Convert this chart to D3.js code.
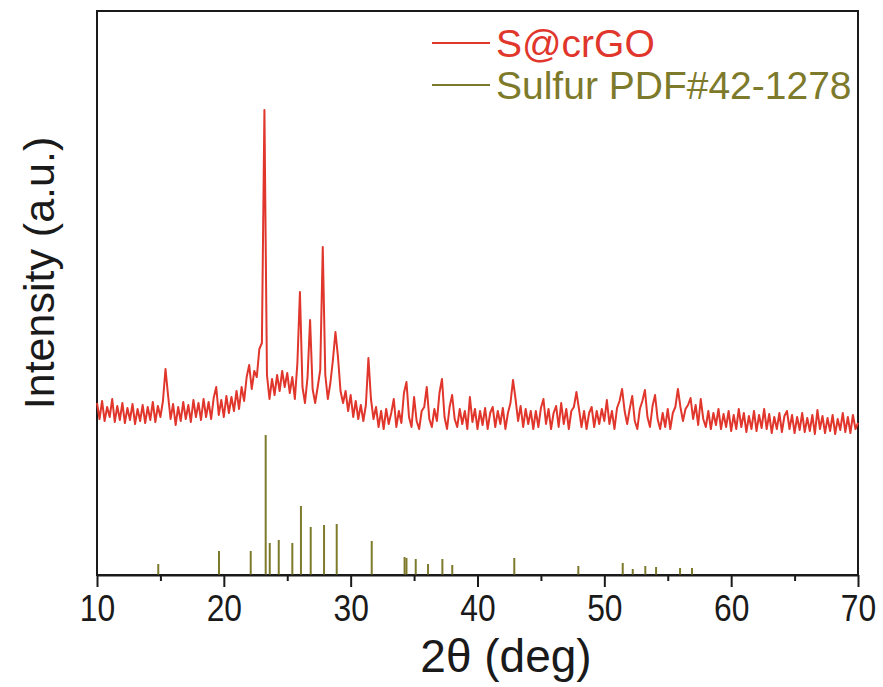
<!DOCTYPE html>
<html>
<head>
<meta charset="utf-8">
<script src="https://cdn.jsdelivr.net/npm/d3@7"></script>
<style>
  body { margin: 0; background: #fff; }
  svg { display: block; font-family: "Liberation Sans", Arial, sans-serif; }
</style>
</head>
<body>
<script>
// XRD scan of S@crGO, step scan from 10 to 70 deg, 0.2 deg step
var scanStart = 10;
var scanStep = 0.2;
var scanIntensity = [
    172, 156, 174, 154, 168,   // 10
    158, 176, 153, 169, 155,   // 11
    172, 152, 167, 155, 171,   // 12
    151, 166, 154, 170, 152,   // 13
    168, 155, 173, 153, 169,   // 14
    158, 174, 206, 180, 156,   // 15
    171, 150, 168, 154, 173,   // 16
    156, 170, 153, 175, 158,   // 17
    172, 155, 176, 158, 173,   // 18
    156, 177, 188, 160, 175,   // 19
    158, 179, 162, 178, 164,   // 20
    184, 166, 188, 174, 198,   // 21
    210, 186, 204, 198, 226,   // 22
    232, 465, 200, 176, 196,   // 23
    180, 200, 184, 204, 188,   // 24
    202, 182, 198, 176, 212,   // 25
    283, 188, 172, 198, 255,   // 26
    186, 172, 188, 205, 328,   // 27
    200, 176, 192, 215, 243,   // 28
    218, 184, 172, 184, 164,   // 29
    180, 158, 174, 156, 170,   // 30
    154, 170, 217, 176, 156,   // 31
    168, 148, 164, 146, 166,   // 32
    151, 162, 176, 148, 164,   // 33
    152, 182, 193, 158, 148,   // 34
    178, 154, 146, 164, 168,   // 35
    188, 156, 148, 166, 154,   // 36
    182, 196, 158, 146, 168,   // 37
    180, 156, 148, 166, 151,   // 38
    164, 146, 178, 153, 166,   // 39
    146, 164, 150, 167, 146,   // 40
    162, 168, 148, 164, 151,   // 41
    167, 146, 162, 172, 195,   // 42
    176, 154, 169, 148, 166,   // 43
    151, 164, 146, 164, 148,   // 44
    167, 176, 151, 166, 146,   // 45
    162, 169, 148, 172, 151,   // 46
    166, 146, 164, 168, 183,   // 47
    166, 148, 164, 146, 162,   // 48
    168, 148, 164, 151, 166,   // 49
    154, 175, 151, 164, 146,   // 50
    167, 174, 186, 164, 151,   // 51
    166, 179, 154, 146, 166,   // 52
    174, 185, 158, 148, 169,   // 53
    180, 156, 146, 162, 148,   // 54
    166, 146, 162, 168, 186,   // 55
    168, 154, 166, 170, 177,   // 56
    156, 170, 150, 176, 156,   // 57
    148, 164, 146, 162, 150,   // 58
    166, 146, 161, 148, 164,   // 59
    144, 160, 146, 166, 148,   // 60
    162, 143, 159, 146, 164,   // 61
    144, 160, 147, 166, 146,   // 62
    161, 142, 158, 146, 162,   // 63
    143, 159, 164, 146, 160,   // 64
    142, 158, 145, 162, 143,   // 65
    157, 144, 160, 141, 165,   // 66
    146, 159, 142, 157, 144,   // 67
    160, 141, 156, 145, 162,   // 68
    143, 158, 142, 160, 146,   // 69
    152                        // 70
];

// reference pattern, sulfur PDF#42-1278
var sulfurAngle = [14.83, 19.62, 22.12, 23.30, 23.62, 24.33, 25.40, 26.08, 26.85, 27.90,
    28.90, 31.66, 34.25, 34.40, 35.13, 36.10, 37.23, 38.01, 42.90, 47.95,
    51.45, 52.24, 53.23, 54.08, 55.97, 56.91];
var sulfurIntensity = [11, 24, 24, 140, 32, 35, 32, 69, 48, 50,
    51, 34, 18, 17, 16, 11, 16, 10, 17, 9,
    12, 6, 9, 8, 7, 7];

var xTicks = [10, 20, 30, 40, 50, 60, 70];
var xMinorTicks = [15, 25, 35, 45, 55, 65];
var seriesNames = ['S@crGO', 'Sulfur PDF#42-1278'];
var seriesColors = ['#e0362c', '#7e7a2c'];

var width = 883, height = 687;
var margin = { top: 11, right: 25, bottom: 112, left: 97 };

var svg = d3.select('body').append('svg')
    .attr('width', width)
    .attr('height', height);

var x = d3.scaleLinear().domain([10, 70]).range([margin.left, width - margin.right]);
var y = d3.scaleLinear().domain([0, 564]).range([height - margin.bottom, margin.top]);

// frame
svg.append('rect')
    .attr('x', margin.left)
    .attr('y', margin.top)
    .attr('width', width - margin.left - margin.right)
    .attr('height', height - margin.top - margin.bottom)
    .attr('fill', 'none')
    .attr('stroke', '#1a1a1a')
    .attr('stroke-width', 2);

// reference sticks
svg.append('g').selectAll('line')
    .data(sulfurAngle)
    .enter()
    .append('line')
    .attr('x1', function (d) { return x(d); })
    .attr('x2', function (d) { return x(d); })
    .attr('y1', y(0))
    .attr('y2', function (d, i) { return y(sulfurIntensity[i]); })
    .attr('stroke', seriesColors[1])
    .attr('stroke-width', 2);

// measured pattern
var line = d3.line()
    .x(function (d, i) { return x(scanStart + i * scanStep); })
    .y(function (d) { return y(d); });

svg.append('path')
    .datum(scanIntensity)
    .attr('d', line)
    .attr('fill', 'none')
    .attr('stroke', seriesColors[0])
    .attr('stroke-width', 2)
    .attr('stroke-linejoin', 'round');

// x axis
var xAxis = svg.append('g')
    .attr('transform', 'translate(0,' + y(0) + ')')
    .call(d3.axisBottom(x).tickValues(xTicks).tickSize(12).tickPadding(8).tickSizeOuter(0));
xAxis.select('.domain').attr('stroke', '#1a1a1a').attr('stroke-width', 2);
xAxis.selectAll('.tick line').attr('stroke', '#1a1a1a').attr('stroke-width', 2);
xAxis.selectAll('.tick text')
    .attr('font-size', 37)
    .attr('transform', 'scale(0.86,1)')
    .attr('fill', '#1a1a1a')
    .attr('font-family', '"Liberation Sans", Arial, sans-serif');

var xMinor = svg.append('g')
    .attr('transform', 'translate(0,' + y(0) + ')')
    .call(d3.axisBottom(x).tickValues(xMinorTicks).tickSize(6).tickFormat('').tickSizeOuter(0));
xMinor.select('.domain').remove();
xMinor.selectAll('.tick line').attr('stroke', '#1a1a1a').attr('stroke-width', 2);

// axis titles
svg.append('text')
    .attr('x', 506)
    .attr('y', 672)
    .attr('text-anchor', 'middle')
    .attr('font-size', 46)
    .attr('fill', '#1a1a1a')
    .text('2θ (deg)');

svg.append('text')
    .attr('transform', 'translate(54,273) rotate(-90)')
    .attr('text-anchor', 'middle')
    .attr('font-size', 43)
    .attr('fill', '#1a1a1a')
    .text('Intensity (a.u.)');

// legend
var legend = svg.append('g').selectAll('g')
    .data(seriesNames)
    .enter()
    .append('g')
    .attr('transform', function (d, i) { return 'translate(432,' + (43 + i * 42) + ')'; });

legend.append('line')
    .attr('x1', 0)
    .attr('x2', 58)
    .attr('stroke', function (d, i) { return seriesColors[i]; })
    .attr('stroke-width', 2);

legend.append('text')
    .attr('x', 64)
    .attr('y', 14)
    .attr('font-size', 39)
    .attr('fill', function (d, i) { return seriesColors[i]; })
    .text(function (d) { return d; });
</script>
</body>
</html>
